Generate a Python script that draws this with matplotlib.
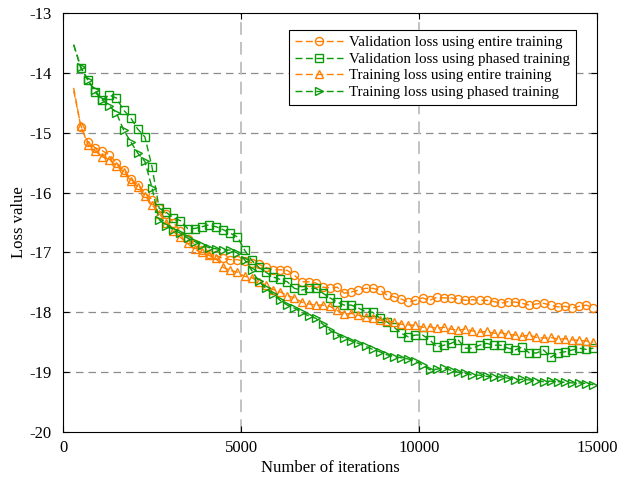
import numpy as np
import matplotlib.pyplot as plt

plt.rcParams['font.family'] = ['Liberation Serif', 'DejaVu Serif']
plt.rcParams['axes.unicode_minus'] = False

# --- DATA ---
iters = list(range(300, 15000, 200))

val_entire = [-14.25, -14.9, -15.15, -15.25, -15.3, -15.37, -15.5, -15.62, -15.78, -15.87,
              -16.0, -16.12, -16.25, -16.35, -16.5, -16.65, -16.78, -16.86, -16.96, -17.02,
              -17.05, -17.1, -17.12, -17.12, -17.15, -17.17, -17.2, -17.25, -17.29, -17.29,
              -17.3, -17.38, -17.49, -17.49, -17.51, -17.58, -17.59, -17.58, -17.68, -17.66,
              -17.63, -17.6, -17.6, -17.63, -17.71, -17.74, -17.78, -17.83, -17.8, -17.76,
              -17.8, -17.75, -17.76, -17.76, -17.78, -17.8, -17.79, -17.8, -17.8, -17.82,
              -17.85, -17.82, -17.83, -17.85, -17.88, -17.86, -17.85, -17.88, -17.91, -17.9,
              -17.93, -17.9, -17.88, -17.93]

val_phased = [-13.53, -13.92, -14.12, -14.32, -14.45, -14.37, -14.42, -14.62, -14.75, -14.94,
              -15.07, -15.57, -16.26, -16.33, -16.42, -16.47, -16.6, -16.6, -16.57, -16.54,
              -16.57, -16.62, -16.68, -16.74, -16.96, -17.13, -17.25, -17.33, -17.41, -17.45,
              -17.49, -17.6, -17.63, -17.6, -17.6, -17.68, -17.76, -17.83, -17.88, -17.88,
              -17.93, -17.99, -18.0, -18.1, -18.16, -18.25, -18.35, -18.41, -18.38, -18.38,
              -18.46, -18.58, -18.55, -18.52, -18.46, -18.6, -18.6, -18.55, -18.52, -18.55,
              -18.55, -18.6, -18.63, -18.58, -18.68, -18.68, -18.63, -18.75, -18.68, -18.66,
              -18.63, -18.6, -18.62, -18.6]

train_entire = [-14.3, -14.88, -15.2, -15.3, -15.4, -15.45, -15.55, -15.65, -15.8, -15.9,
                -16.05, -16.2, -16.35, -16.5, -16.65, -16.75, -16.85, -16.95, -17.0, -17.05,
                -17.1, -17.25, -17.3, -17.33, -17.4, -17.42, -17.49, -17.55, -17.62, -17.66,
                -17.72, -17.76, -17.83, -17.86, -17.88, -17.88, -17.9, -17.97, -18.03, -18.02,
                -18.05, -18.08, -18.1, -18.13, -18.15, -18.16, -18.2, -18.21, -18.22, -18.25,
                -18.24, -18.27, -18.25, -18.28, -18.3, -18.28, -18.31, -18.33, -18.32, -18.35,
                -18.34, -18.37, -18.38, -18.4, -18.38, -18.42, -18.43, -18.42, -18.45, -18.44,
                -18.46, -18.47, -18.48, -18.5]

train_phased = [-13.53, -13.9, -14.12, -14.29, -14.45, -14.55, -14.67, -14.95, -15.15, -15.34,
                -15.48, -15.92, -16.45, -16.55, -16.62, -16.68, -16.76, -16.82, -16.87, -16.92,
                -16.94, -16.96, -16.96, -17.01, -17.12, -17.3, -17.48, -17.6, -17.7, -17.8,
                -17.88, -17.93, -18.0, -18.06, -18.1, -18.2, -18.3, -18.38, -18.43, -18.48,
                -18.52, -18.57, -18.62, -18.66, -18.71, -18.74, -18.76, -18.78, -18.82, -18.88,
                -18.96, -18.95, -18.93, -18.97, -19.0, -19.02, -19.05, -19.05, -19.07, -19.08,
                -19.08, -19.1, -19.13, -19.12, -19.13, -19.14, -19.16, -19.15, -19.16, -19.17,
                -19.18, -19.18, -19.19, -19.21]

labels = ["Validation loss using entire training",
          "Validation loss using phased training",
          "Training loss using entire training",
          "Training loss using phased training"]

orange = "#ff8000"
green = "#0a9a0a"

# --- PLOT ---
fig = plt.figure(figsize=(6.32, 4.83), dpi=100)
ax = fig.add_axes([0.0997, 0.1056, 0.8449, 0.8674])

series = [(val_entire, orange, "o"), (val_phased, green, "s"),
          (train_entire, orange, "^"), (train_phased, green, ">")]
for (vals, col, mk), lab in zip(series, labels):
    ax.plot(iters, vals, color=col, linestyle=(0, (5, 2.5)), linewidth=1.0,
            marker=mk, markersize=5.8, markerfacecolor="none", markeredgewidth=1.0,
            markevery=slice(1, None), label=lab)

ax.set_xlim(0, 15000)
ax.set_ylim(-20, -13)
ax.set_xticks([0, 5000, 10000, 15000])
ax.set_yticks(range(-20, -12))

for y in range(-19, -13):
    ax.axhline(y, color="#8c8c8c", linestyle=(0, (6, 4)), linewidth=0.9, zorder=0)
for x in [5000, 10000]:
    ax.axvline(x, color="#bdbdbd", linestyle=(0, (7, 4)), linewidth=1.3, zorder=0)

ax.tick_params(direction="in", top=True, right=True, labelsize=12, length=4)
ax.tick_params(axis="x", pad=6)
ax.tick_params(axis="y", pad=8)
for s in ax.spines.values():
    s.set_linewidth(0.8)

ax.set_xlabel("Number of iterations", fontsize=12, labelpad=3)
ax.set_ylabel("Loss value", fontsize=12, labelpad=2)

leg = ax.legend(loc="upper right", bbox_to_anchor=(0.975, 0.978), fontsize=10.8,
                fancybox=False, edgecolor="black", framealpha=1,
                handlelength=3.2, borderpad=0.4, labelspacing=0.2, handletextpad=0.4)
leg.get_frame().set_linewidth(0.8)

plt.savefig("out.png", dpi=100)
